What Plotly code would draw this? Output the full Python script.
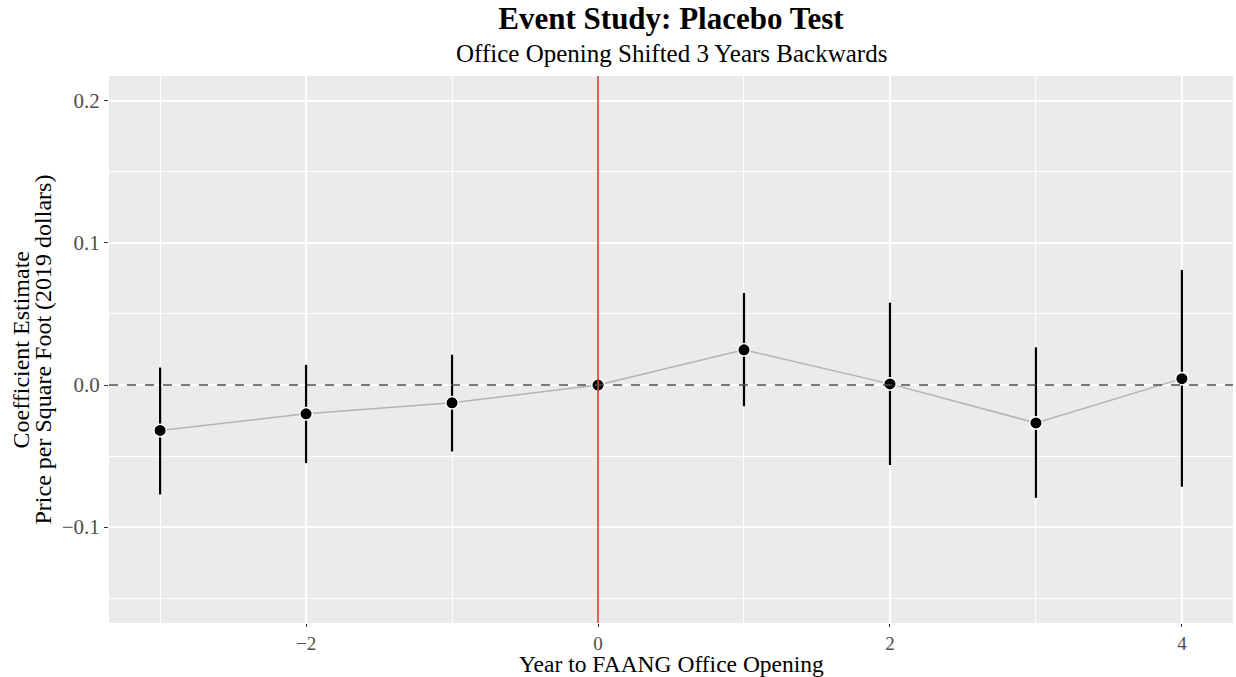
import plotly.graph_objects as go

years = [-3, -2, -1, 0, 1, 2, 3, 4]
estimate = [-0.032, -0.0203, -0.0125, 0.0, 0.0248, 0.0008, -0.0267, 0.0045]
ci_upper = [0.0123, 0.0142, 0.0213, 0.0, 0.0648, 0.058, 0.0265, 0.081]
ci_lower = [-0.077, -0.055, -0.0468, 0.0, -0.0149, -0.0563, -0.0794, -0.0716]

x_ticks = [-2, 0, 2, 4]
y_ticks = [-0.1, 0.0, 0.1, 0.2]
y_tick_labels = ["\u22120.1", "0.0", "0.1", "0.2"]
x_tick_labels = ["\u22122", "0", "2", "4"]

FONT = "Liberation Serif, Times New Roman, serif"

fig = go.Figure()

fig.add_trace(go.Scatter(x=years, y=estimate, mode="lines",
                         line=dict(color="#b3b3b3", width=1.5),
                         hoverinfo="skip", showlegend=False))

ex, ey = [], []
for x, lo, hi in zip(years, ci_lower, ci_upper):
    if hi != lo:
        ex += [x, x, None]
        ey += [lo, hi, None]
fig.add_trace(go.Scatter(x=ex, y=ey, mode="lines",
                         line=dict(color="black", width=2.2),
                         hoverinfo="skip", showlegend=False))

fig.add_vline(x=0, line=dict(color="#c8442e", width=1.6), layer="above")
fig.add_hline(y=0, line=dict(color="#4d4d4d", width=1.5, dash="dash"), layer="above")

fig.add_trace(go.Scatter(x=years, y=estimate, mode="markers",
                         marker=dict(color="black", size=12.5,
                                     line=dict(color="white", width=1.5)),
                         showlegend=False))

fig.update_layout(
    width=1236, height=677,
    paper_bgcolor="white", plot_bgcolor="#ebebeb",
    margin=dict(l=109, r=3, t=76, b=54),
    font=dict(family=FONT, color="black"),
    title=dict(text="<b>Event Study: Placebo Test</b>", xref="paper", x=0.5, xanchor="center",
               yref="container", y=1 - 18 / 677, yanchor="middle", font=dict(size=31, family=FONT)),
    annotations=[
        dict(text="Office Opening Shifted 3 Years Backwards",
             xref="paper", yref="paper", x=0.5, y=1.0,
             yshift=23, showarrow=False, xanchor="center", yanchor="middle",
             font=dict(size=25, family=FONT, color="black")),
        dict(text="Year to FAANG Office Opening",
             xref="paper", yref="paper", x=0.5, y=0.0,
             yshift=-41, showarrow=False, xanchor="center", yanchor="middle",
             font=dict(size=23.5, family=FONT, color="black")),
        dict(text="Coefficient Estimate", xref="paper", yref="paper",
             x=0, y=0.5, xshift=-89, xanchor="center", yanchor="middle",
             textangle=-90, showarrow=False,
             font=dict(size=24, family=FONT, color="black")),
        dict(text="Price per Square Foot (2019 dollars)", xref="paper", yref="paper",
             x=0, y=0.5, xshift=-67, xanchor="center", yanchor="middle",
             textangle=-90, showarrow=False,
             font=dict(size=24, family=FONT, color="black")),
    ],
)

fig.update_xaxes(
    range=[-3.35, 4.35], tickvals=x_ticks, ticktext=x_tick_labels,
    showgrid=True, gridcolor="white", gridwidth=1.5,
    minor=dict(tickvals=[-3, -1, 1, 3], showgrid=True, gridcolor="white", gridwidth=0.7),
    ticks="outside", ticklen=3, tickcolor="#333333", tickwidth=1.2,
    tickfont=dict(size=19, color="#4d4d4d", family=FONT),
    zeroline=False, showline=False,
)
fig.update_yaxes(
    range=[-0.1675, 0.2175], tickvals=y_ticks, ticktext=y_tick_labels,
    showgrid=True, gridcolor="white", gridwidth=1.5,
    minor=dict(tickvals=[-0.15, -0.05, 0.05, 0.15], showgrid=True, gridcolor="white", gridwidth=0.7),
    ticks="outside", ticklen=4, tickcolor="#333333", tickwidth=1.2,
    tickfont=dict(size=21, color="#4d4d4d", family=FONT),
    zeroline=False, showline=False,
)

fig.write_html("out.html")
